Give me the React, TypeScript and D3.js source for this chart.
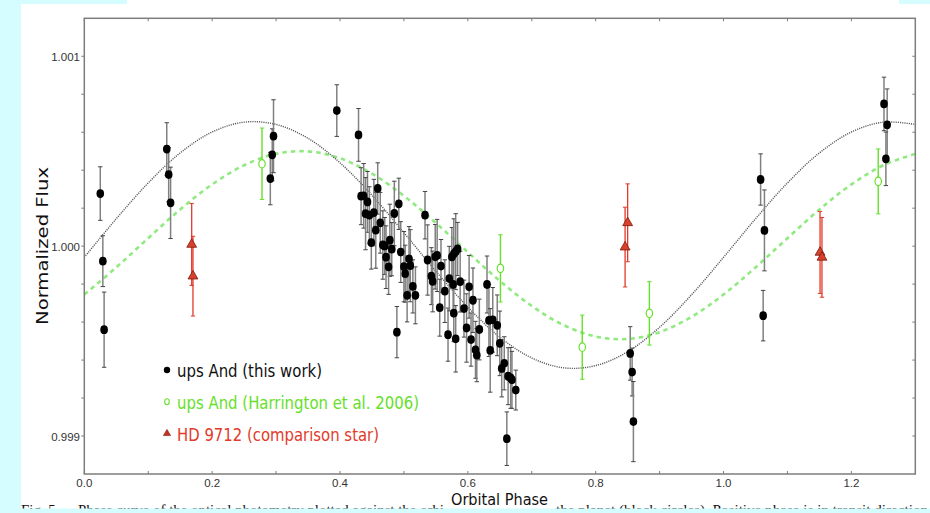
import React from 'react';
import * as d3 from 'd3';

// ---- data ----
const blackPhase = [
  0.025, 0.029, 0.031, 0.129, 0.132, 0.135, 0.291, 0.294, 0.296, 0.395,
  0.429, 0.433, 0.437, 0.443, 0.459, 0.440, 0.446, 0.453, 0.463, 0.456,
  0.449, 0.467, 0.470, 0.478, 0.481, 0.472, 0.476, 0.485, 0.492, 0.495,
  0.500, 0.502, 0.505, 0.508, 0.510, 0.514, 0.518, 0.489, 0.533, 0.537,
  0.543, 0.545, 0.549, 0.552, 0.558, 0.564, 0.556, 0.569, 0.571, 0.575,
  0.578, 0.581, 0.584, 0.577, 0.578, 0.581, 0.588, 0.594, 0.598, 0.602,
  0.605, 0.608, 0.612, 0.614, 0.618, 0.630, 0.633, 0.639, 0.646, 0.635,
  0.650, 0.653, 0.657, 0.663, 0.667, 0.669, 0.675, 0.661, 0.854, 0.857,
  0.859, 1.058, 1.064, 1.062, 1.251, 1.256, 1.254,
];
const blackFlux = [
  1.000277, 0.999921, 0.999560, 1.000511, 1.000377, 1.000228, 1.000356, 1.000481, 1.000579, 1.000714,
  1.000586, 1.000263, 1.000265, 1.000233, 1.000304, 1.000171, 1.000163, 1.000177, 1.000123, 1.000084,
  1.000019, 1.000006, 1.000001, 1.000031, 0.999984, 0.999942, 0.999891, 1.000172, 1.000223, 0.999969,
  0.999892, 0.999855, 0.999741, 0.999933, 0.999897, 0.999788, 0.999741, 0.999547, 1.000163, 0.999927,
  0.999842, 0.999814, 0.999944, 0.999951, 0.999895, 0.999763, 0.999676, 0.999534, 0.999829, 0.999943,
  0.999959, 0.999971, 0.999985, 0.999798, 0.999647, 0.999512, 0.999813, 0.999671, 0.999569, 0.999786,
  0.999508, 0.999715, 0.999454, 0.999426, 0.999561, 0.999798, 0.999609, 0.999612, 0.999583, 0.999451,
  0.999488, 0.999356, 0.999383, 0.999315, 0.999306, 0.999296, 0.999242, 0.998986, 0.999435, 0.999337,
  0.999076, 1.000351, 1.000083, 0.999634, 1.000749, 1.000639, 1.000460,
];
const blackErr = [
  0.000141, 0.000134, 0.000198, 0.000139, 0.000142, 0.000188, 0.000138, 0.000137, 0.000192, 0.000136,
  0.000139, 0.000150, 0.000170, 0.000160, 0.000135, 0.000190, 0.000150, 0.000175, 0.000160, 0.000200,
  0.000140, 0.000180, 0.000150, 0.000190, 0.000140, 0.000165, 0.000145, 0.000170, 0.000135, 0.000160,
  0.000185, 0.000150, 0.000140, 0.000170, 0.000190, 0.000140, 0.000150, 0.000135, 0.000125, 0.000185,
  0.000150, 0.000160, 0.000170, 0.000190, 0.000140, 0.000165, 0.000150, 0.000140, 0.000170, 0.000155,
  0.000185, 0.000200, 0.000140, 0.000160, 0.000150, 0.000175, 0.000160, 0.000150, 0.000180, 0.000165,
  0.000140, 0.000170, 0.000150, 0.000140, 0.000160, 0.000150, 0.000190, 0.000170, 0.000160, 0.000220,
  0.000170, 0.000150, 0.000140, 0.000150, 0.000160, 0.000150, 0.000105, 0.000141, 0.000141, 0.000126,
  0.000211, 0.000135, 0.000213, 0.000133, 0.000141, 0.000189, 0.000141,
];

const greenPhase = [0.278, 0.651, 0.779, 0.884, 1.242];
const greenFlux = [1.000434, 0.999883, 0.999468, 0.999646, 1.000341];
const greenErr = [0.000188, 0.000177, 0.000169, 0.000167, 0.000171];

const redPhase = [0.168, 0.170, 0.850, 0.846, 1.151, 1.154];
const redFlux = [1.000009, 0.999842, 1.000123, 0.999995, 0.999967, 0.999941];
const redErr = [0.000216, 0.000210, 0.000205, 0.000210, 0.000216, 0.000210];

const modelPhase = [
  0, 0.05, 0.1, 0.15, 0.2, 0.25, 0.3, 0.35, 0.4, 0.45, 0.5, 0.55, 0.6, 0.65,
  0.7, 0.75, 0.8, 0.85, 0.9, 0.95, 1.0, 1.05, 1.1, 1.15, 1.2, 1.25, 1.3,
];
const thisWorkModel = [
  0.999941, 1.000144, 1.000333, 1.000491, 1.000601, 1.000653, 1.000641, 1.000568, 1.000439,
  1.000268, 1.000071, 0.999868, 0.999679, 0.999521, 0.999411, 0.999359, 0.999371, 0.999444,
  0.999573, 0.999744, 0.999941, 1.000144, 1.000333, 1.000491, 1.000601, 1.000653, 1.000641,
];
const harringtonModel = [
  0.999745, 0.999888, 1.000042, 1.000193, 1.000325, 1.000426, 1.000486, 1.000499, 1.000463,
  1.000382, 1.000265, 1.000122, 0.999968, 0.999817, 0.999685, 0.999584, 0.999524, 0.999511,
  0.999547, 0.999628, 0.999745, 0.999888, 1.000042, 1.000193, 1.000325, 1.000426, 1.000486,
];

const xTicks = [0, 0.2, 0.4, 0.6, 0.8, 1.0, 1.2];
const xTickLabels = ['0.0', '0.2', '0.4', '0.6', '0.8', '1.0', '1.2'];
const xMinorTicks = [0, 0.1, 0.2, 0.3, 0.4, 0.5, 0.6, 0.7, 0.8, 0.9, 1.0, 1.1, 1.2];
const yTicks = [0.999, 1.0, 1.001];
const yTickLabels = ['0.999', '1.000', '1.001'];
const yMinorTicks = [0.999, 0.9992, 0.9994, 0.9996, 0.9998, 1.0, 1.0002, 1.0004, 1.0006, 1.0008, 1.001];

const legendLabels = ['ups And (this work)', 'ups And (Harrington et al. 2006)', 'HD 9712 (comparison star)'];
const xTitle = 'Orbital Phase';
const yTitle = 'Normalized Flux';
const captionLeft = 'Fig. 5.— Phase curve of the optical photometry plotted against the orbi';
const captionRight = 'the planet (black circles). Positive phase is in transit direction';

// ---- styles ----
const CYAN = '#d5fcff';
const BLACK = '#000';
const GREEN = '#66e02a';
const GREEN_LINE = '#90ea80';
const RED = '#e23a2a';
const AXIS = '#7d7d7d';

export default function App() {
  const W = 930;
  const H = 513;
  const x = d3.scaleLinear().domain([0, 1.3]).range([84.3, 915.3]);
  const y = d3.scaleLinear().domain([0.9988, 1.0012]).range([474, 18.3]);
  const [x0, x1] = x.range();
  const [y0, y1] = y.range();

  const line = d3
    .line<number>()
    .x((_, i) => x(modelPhase[i]))
    .y((d) => y(d))
    .curve(d3.curveCatmullRom);

  const tri = d3.symbol().type(d3.symbolTriangle).size(42)();
  const capW = 2.2;
  const font = "'DejaVu Sans Condensed', 'DejaVu Sans', sans-serif";

  return (
    <svg
      width={W}
      height={H}
      style={{ position: 'absolute', left: 0, top: 0, display: 'block' }}
      xmlns="http://www.w3.org/2000/svg"
    >
      <rect x={0} y={0} width={W} height={H} fill={CYAN} />
      <rect x={21} y={4} width={W - 21} height={505} fill="#fff" />
      <rect x={127} y={0} width={899 - 127} height={5} fill="#fff" />

      {/* caption peeking at the bottom, under the figure */}
      <text x={21} y={515} fontFamily="'Liberation Serif', serif" fontSize={15} fill="#111"
        textLength={423} lengthAdjust="spacingAndGlyphs">
        {captionLeft}
      </text>
      <text x={556} y={515} fontFamily="'Liberation Serif', serif" fontSize={15} fill="#111"
        textLength={372} lengthAdjust="spacingAndGlyphs">
        {captionRight}
      </text>
      <rect x={0} y={508.5} width={W} height={H - 508.5} fill={CYAN} />
      <rect x={0} y={0} width={21} height={H} fill={CYAN} />

      {/* models */}
      <path
        d={line(harringtonModel) || ''}
        fill="none"
        stroke={GREEN_LINE}
        strokeWidth={2.6}
        strokeDasharray="4.5 4"
      />
      <path
        d={line(thisWorkModel) || ''}
        fill="none"
        stroke="#555"
        strokeWidth={1.4}
        strokeDasharray="1.1 1.1"
      />

      {/* frame */}
      <rect x={x0} y={y1} width={x1 - x0} height={y0 - y1} fill="none" stroke={AXIS} strokeWidth={1.5} />
      {xMinorTicks.map((t, i) => (
        <g key={'xt' + i}>
          <line x1={x(t)} x2={x(t)} y1={y0} y2={y0 - 3} stroke={AXIS} strokeWidth={1} />
          <line x1={x(t)} x2={x(t)} y1={y1} y2={y1 + 3} stroke={AXIS} strokeWidth={1} />
        </g>
      ))}
      {yMinorTicks.map((t, i) => (
        <g key={'yt' + i}>
          <line x1={x0} x2={x0 - 3} y1={y(t)} y2={y(t)} stroke={AXIS} strokeWidth={1} />
          <line x1={x1} x2={x1 - 3} y1={y(t)} y2={y(t)} stroke={AXIS} strokeWidth={1} />
        </g>
      ))}
      {xTicks.map((t, i) => (
        <text
          key={'xl' + i}
          x={x(t)}
          y={487}
          textAnchor="middle"
          fontFamily="'Liberation Sans', sans-serif"
          fontSize={11.5}
          fill="#333"
        >
          {xTickLabels[i]}
        </text>
      ))}
      {yTicks.map((t, i) => (
        <text
          key={'yl' + i}
          x={80}
          y={y(t) + 4.5}
          textAnchor="end"
          fontFamily="'Liberation Sans', sans-serif"
          fontSize={11.5}
          fill="#333"
        >
          {yTickLabels[i]}
        </text>
      ))}

      {/* axis titles */}
      <text
        x={499.5}
        y={505}
        textAnchor="middle"
        fontFamily={font}
        fontSize={16}
        textLength={97}
        lengthAdjust="spacingAndGlyphs"
        fill="#111"
      >
        {xTitle}
      </text>
      <text
        transform="translate(48,246) rotate(-90)"
        textAnchor="middle"
        fontFamily="'DejaVu Sans', sans-serif"
        fontSize={16}
        textLength={158}
        lengthAdjust="spacingAndGlyphs"
        fill="#111"
      >
        {yTitle}
      </text>

      {/* black error bars + points */}
      {blackPhase.map((p, i) => {
        const cx = x(p);
        const ya = y(blackFlux[i] + blackErr[i]);
        const yb = y(blackFlux[i] - blackErr[i]);
        return (
          <g key={'be' + i}>
            <line x1={cx} x2={cx} y1={ya} y2={yb} stroke="#808080" strokeWidth={1.5} />
            <line x1={cx - capW} x2={cx + capW} y1={ya} y2={ya} stroke="#444" strokeWidth={1} />
            <line x1={cx - capW} x2={cx + capW} y1={yb} y2={yb} stroke="#444" strokeWidth={1} />
          </g>
        );
      })}
      {blackPhase.map((p, i) => (
        <ellipse key={'bp' + i} cx={x(p)} cy={y(blackFlux[i])} rx={3.8} ry={4.4} fill={BLACK} />
      ))}

      {/* green (Harrington) */}
      {greenPhase.map((p, i) => {
        const cx = x(p);
        const ya = y(greenFlux[i] + greenErr[i]);
        const yb = y(greenFlux[i] - greenErr[i]);
        return (
          <g key={'g' + i}>
            <line x1={cx} x2={cx} y1={ya} y2={yb} stroke={GREEN} strokeWidth={1.4} />
            <line x1={cx - capW} x2={cx + capW} y1={ya} y2={ya} stroke={GREEN} strokeWidth={1} />
            <line x1={cx - capW} x2={cx + capW} y1={yb} y2={yb} stroke={GREEN} strokeWidth={1} />
            <ellipse cx={cx} cy={y(greenFlux[i])} rx={3.2} ry={4.2} fill="#fff" stroke={GREEN} strokeWidth={1.2} />
          </g>
        );
      })}

      {/* red (comparison star) */}
      {redPhase.map((p, i) => {
        const cx = x(p);
        const ya = y(redFlux[i] + redErr[i]);
        const yb = y(redFlux[i] - redErr[i]);
        return (
          <g key={'r' + i}>
            <line x1={cx} x2={cx} y1={ya} y2={yb} stroke={RED} strokeWidth={1.3} />
            <line x1={cx - capW} x2={cx + capW} y1={ya} y2={ya} stroke={RED} strokeWidth={1} />
            <line x1={cx - capW} x2={cx + capW} y1={yb} y2={yb} stroke={RED} strokeWidth={1} />
          </g>
        );
      })}
      {redPhase.map((p, i) => (
        <path
          key={'rt' + i}
          d={tri || ''}
          transform={`translate(${x(p)},${y(redFlux[i])})`}
          fill="#d9402c"
          stroke="#7a1a10"
          strokeWidth={0.8}
        />
      ))}

      {/* legend */}
      <circle cx={167} cy={370} r={3.2} fill={BLACK} />
      <text
        x={177}
        y={377}
        fontFamily={font}
        fontSize={17}
        textLength={145}
        lengthAdjust="spacingAndGlyphs"
        fill="#111"
      >
        {legendLabels[0]}
      </text>
      <ellipse cx={167} cy={401.7} rx={2.3} ry={3} fill="#fff" stroke={GREEN} strokeWidth={1.1} />
      <text
        x={177}
        y={409}
        fontFamily={font}
        fontSize={17}
        textLength={242}
        lengthAdjust="spacingAndGlyphs"
        fill={GREEN}
      >
        {legendLabels[1]}
      </text>
      <path
        d={d3.symbol().type(d3.symbolTriangle).size(22)() || ''}
        transform="translate(167,433.5)"
        fill="#c8301f"
        stroke="#7a1a10"
        strokeWidth={0.6}
      />
      <text
        x={177}
        y={441}
        fontFamily={font}
        fontSize={17}
        textLength={202}
        lengthAdjust="spacingAndGlyphs"
        fill={RED}
      >
        {legendLabels[2]}
      </text>
    </svg>
  );
}
